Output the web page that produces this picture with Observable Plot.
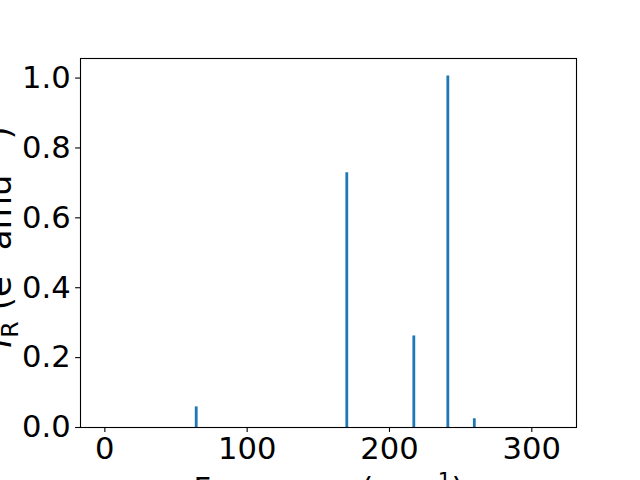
<!DOCTYPE html>
<html>
<head>
<meta charset="utf-8">
<script src="https://cdn.jsdelivr.net/npm/d3@7"></script>
<script src="https://cdn.jsdelivr.net/npm/@observablehq/plot@0.6"></script>
<style>
  html, body { margin: 0; padding: 0; background: white; }
</style>
</head>
<body>
<div id="chart"></div>
<script>
// Data
const frequencies = [64.2, 170.0, 217.1, 241.0, 259.6];
const intensities = [0.059, 0.729, 0.262, 1.006, 0.025];
const xTicks = [0, 100, 200, 300];
const yTicks = [0.0, 0.2, 0.4, 0.6, 0.8, 1.0];
// Label pieces: [text, kind]
const yLabelParts = [["I", "it"], ["R", "sub"], [" (e", ""], ["2", "sup"], [" amu", ""], ["−1", "sup"], [")", ""]];
const xLabelParts = [["Frequency (cm", ""], ["−1", "sup"], [")", ""]];

const data = frequencies.map((f, i) => ({f, v: intensities[i]}));
const plain = parts => parts.map(p => p[0]).join("");
const yLabel = plain(yLabelParts);
const xLabel = plain(xLabelParts);

const FS = 30.6;
const YFS = 34;
const chart = Plot.plot({
  width: 640,
  height: 480,
  marginLeft: 80,
  marginRight: 64,
  marginTop: 58,
  marginBottom: 53,
  style: {fontFamily: "DejaVu Sans", fontSize: FS + "px", background: "white", color: "black"},
  x: {domain: [-17.1, 331.4]},
  y: {domain: [0, 1.056]},
  marks: [
    Plot.ruleX(data, {x: "f", y1: 0, y2: "v", stroke: "#1f77b4", strokeWidth: 2.8}),
    Plot.frame({stroke: "black", strokeWidth: 1.1}),
    Plot.axisX({ticks: xTicks, tickSize: 4.9, tickPadding: 4.9, tickFormat: d3.format("d"), label: null, fontSize: FS, stroke: "black", strokeWidth: 1.1}),
    Plot.axisY({ticks: yTicks, tickSize: 4.9, tickPadding: 4.9, tickFormat: d3.format(".1f"), label: null, fontSize: FS, stroke: "black", strokeWidth: 1.1}),
    Plot.text([yLabel], {frameAnchor: "left", dx: -70, dy: -6, rotate: -90, textAnchor: "middle", lineAnchor: "bottom", fontSize: YFS, fill: "black"}),
    Plot.text([xLabel], {frameAnchor: "bottom", dy: 50, textAnchor: "middle", lineAnchor: "top", fontSize: FS, fill: "black"})
  ]
});

function richify(svg, label, parts, fs) {
  d3.select(svg).selectAll("text").filter(function() { return this.textContent === label; }).each(function() {
    const t = d3.select(this);
    t.text(null);
    let shift = 0;
    for (const [s, kind] of parts) {
      const ts = t.append("tspan").text(s);
      let target = 0;
      if (kind === "it") ts.attr("font-style", "italic");
      if (kind === "sub") { ts.attr("font-size", fs * 0.7); target = 0.22 * fs; }
      else if (kind === "sup") { ts.attr("font-size", fs * 0.7); target = -0.36 * fs; }
      if (target !== shift) { ts.attr("dy", target - shift); shift = target; }
    }
  });
}
richify(chart, yLabel, yLabelParts, YFS);
richify(chart, xLabel, xLabelParts, FS);

document.getElementById("chart").appendChild(chart);
</script>
</body>
</html>
